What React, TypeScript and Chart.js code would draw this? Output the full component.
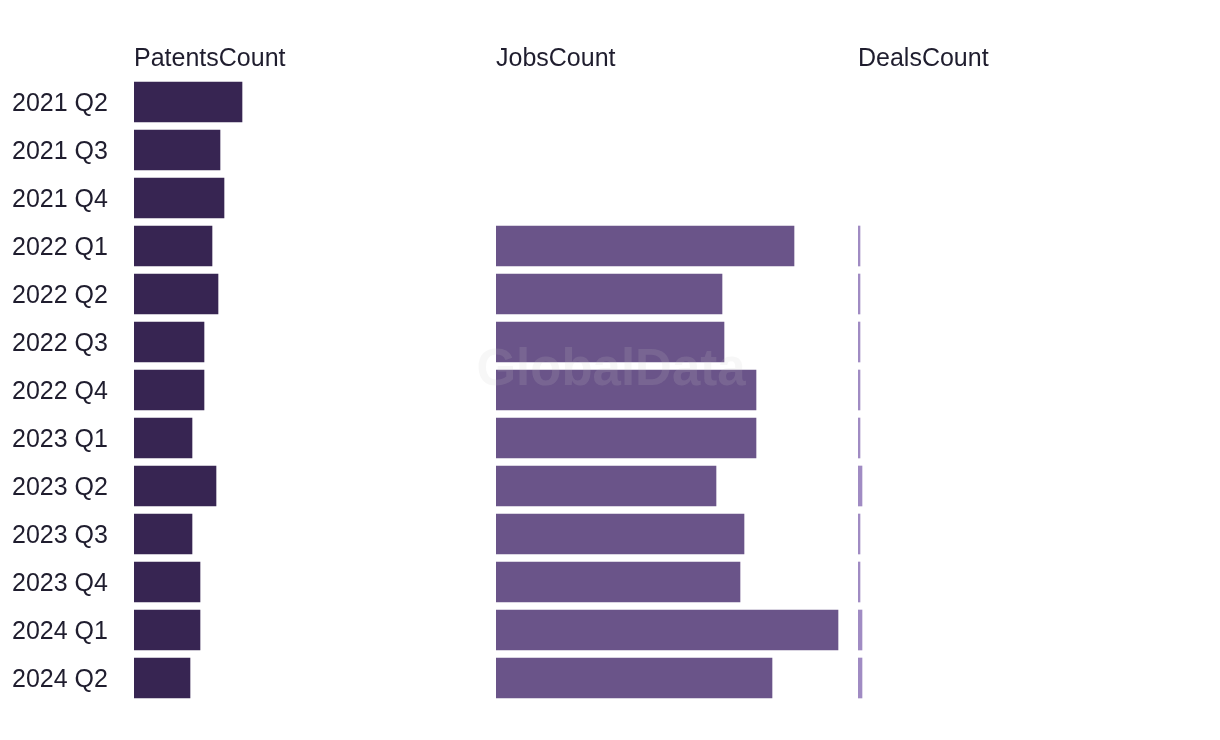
import React, { useEffect, useRef } from "react";
import { Chart, registerables } from "chart.js";

Chart.register(...registerables);

const quarters = [
  "2021 Q2", "2021 Q3", "2021 Q4",
  "2022 Q1", "2022 Q2", "2022 Q3", "2022 Q4",
  "2023 Q1", "2023 Q2", "2023 Q3", "2023 Q4",
  "2024 Q1", "2024 Q2",
];
const patentsCount = [54, 43, 45, 39, 42, 35, 35, 29, 41, 29, 33, 33, 28];
const jobsCount = [null, null, null, 149, 113, 114, 130, 130, 110, 124, 122, 171, 138];
const dealsCount = [null, null, null, 1, 1, 1, 1, 1, 2, 1, 1, 2, 2];
const panelTitles = ["PatentsCount", "JobsCount", "DealsCount"];
const panelMax = 181;

const FONT = "'Liberation Sans', Arial, sans-serif";
const TEXT = "#1f1d2e";

const watermark = {
  id: "watermark",
  afterDatasetsDraw(chart: any) {
    const { ctx } = chart;
    ctx.save();
    ctx.font = `bold 51px ${FONT}`;
    ctx.fillStyle = "rgba(200,200,200,0.15)";
    ctx.textAlign = "center";
    ctx.textBaseline = "middle";
    ctx.fillText("GlobalData", 611, 371);
    ctx.restore();
  },
};

function xAxis(title: string) {
  return {
    position: "top",
    stack: "panels",
    stackWeight: 1,
    min: 0,
    max: panelMax,
    offset: false,
    grid: { display: false, drawTicks: false },
    border: { display: false },
    ticks: { display: false },
    title: {
      display: true,
      text: title,
      align: "start",
      color: TEXT,
      font: { family: FONT, size: 25 },
      padding: { top: 6, bottom: 2 },
    },
    afterFit(scale: any) {
      scale.height = 40;
    },
  };
}

export default function App() {
  const ref = useRef<HTMLCanvasElement | null>(null);

  useEffect(() => {
    document.body.style.margin = "0";
    const canvas = ref.current;
    if (!canvas) return;
    const common = { grouped: false, barThickness: 40, borderWidth: 0 };
    const chart = new Chart(canvas, {
      type: "bar",
      data: {
        labels: quarters,
        datasets: [
          { label: panelTitles[0], data: patentsCount, xAxisID: "xP", backgroundColor: "#372552", ...common },
          { label: panelTitles[1], data: jobsCount as any, xAxisID: "xJ", backgroundColor: "#6a5489", ...common },
          { label: panelTitles[2], data: dealsCount as any, xAxisID: "xD", backgroundColor: "#a08bc3", ...common },
        ],
      },
      options: {
        indexAxis: "y",
        responsive: false,
        animation: false,
        layout: { padding: { left: 12, top: 38, bottom: 38, right: 0 } },
        plugins: { legend: { display: false }, tooltip: { enabled: false } },
        scales: {
          y: {
            type: "category",
            position: "left",
            grid: { display: false, drawTicks: false },
            border: { display: false },
            ticks: {
              crossAlign: "far",
              color: TEXT,
              font: { family: FONT, size: 25 },
              padding: 0,
              labelOffset: 2,
            },
            afterFit(scale: any) {
              scale.width = 122;
            },
          },
          xD: xAxis(panelTitles[2]),
          xJ: xAxis(panelTitles[1]),
          xP: xAxis(panelTitles[0]),
        } as any,
      },
      plugins: [watermark],
    });
    return () => chart.destroy();
  }, []);

  return (
    <div style={{ width: 1220, height: 740, background: "#fff" }}>
      <canvas ref={ref} width={1220} height={740} style={{ display: "block" }} />
    </div>
  );
}
